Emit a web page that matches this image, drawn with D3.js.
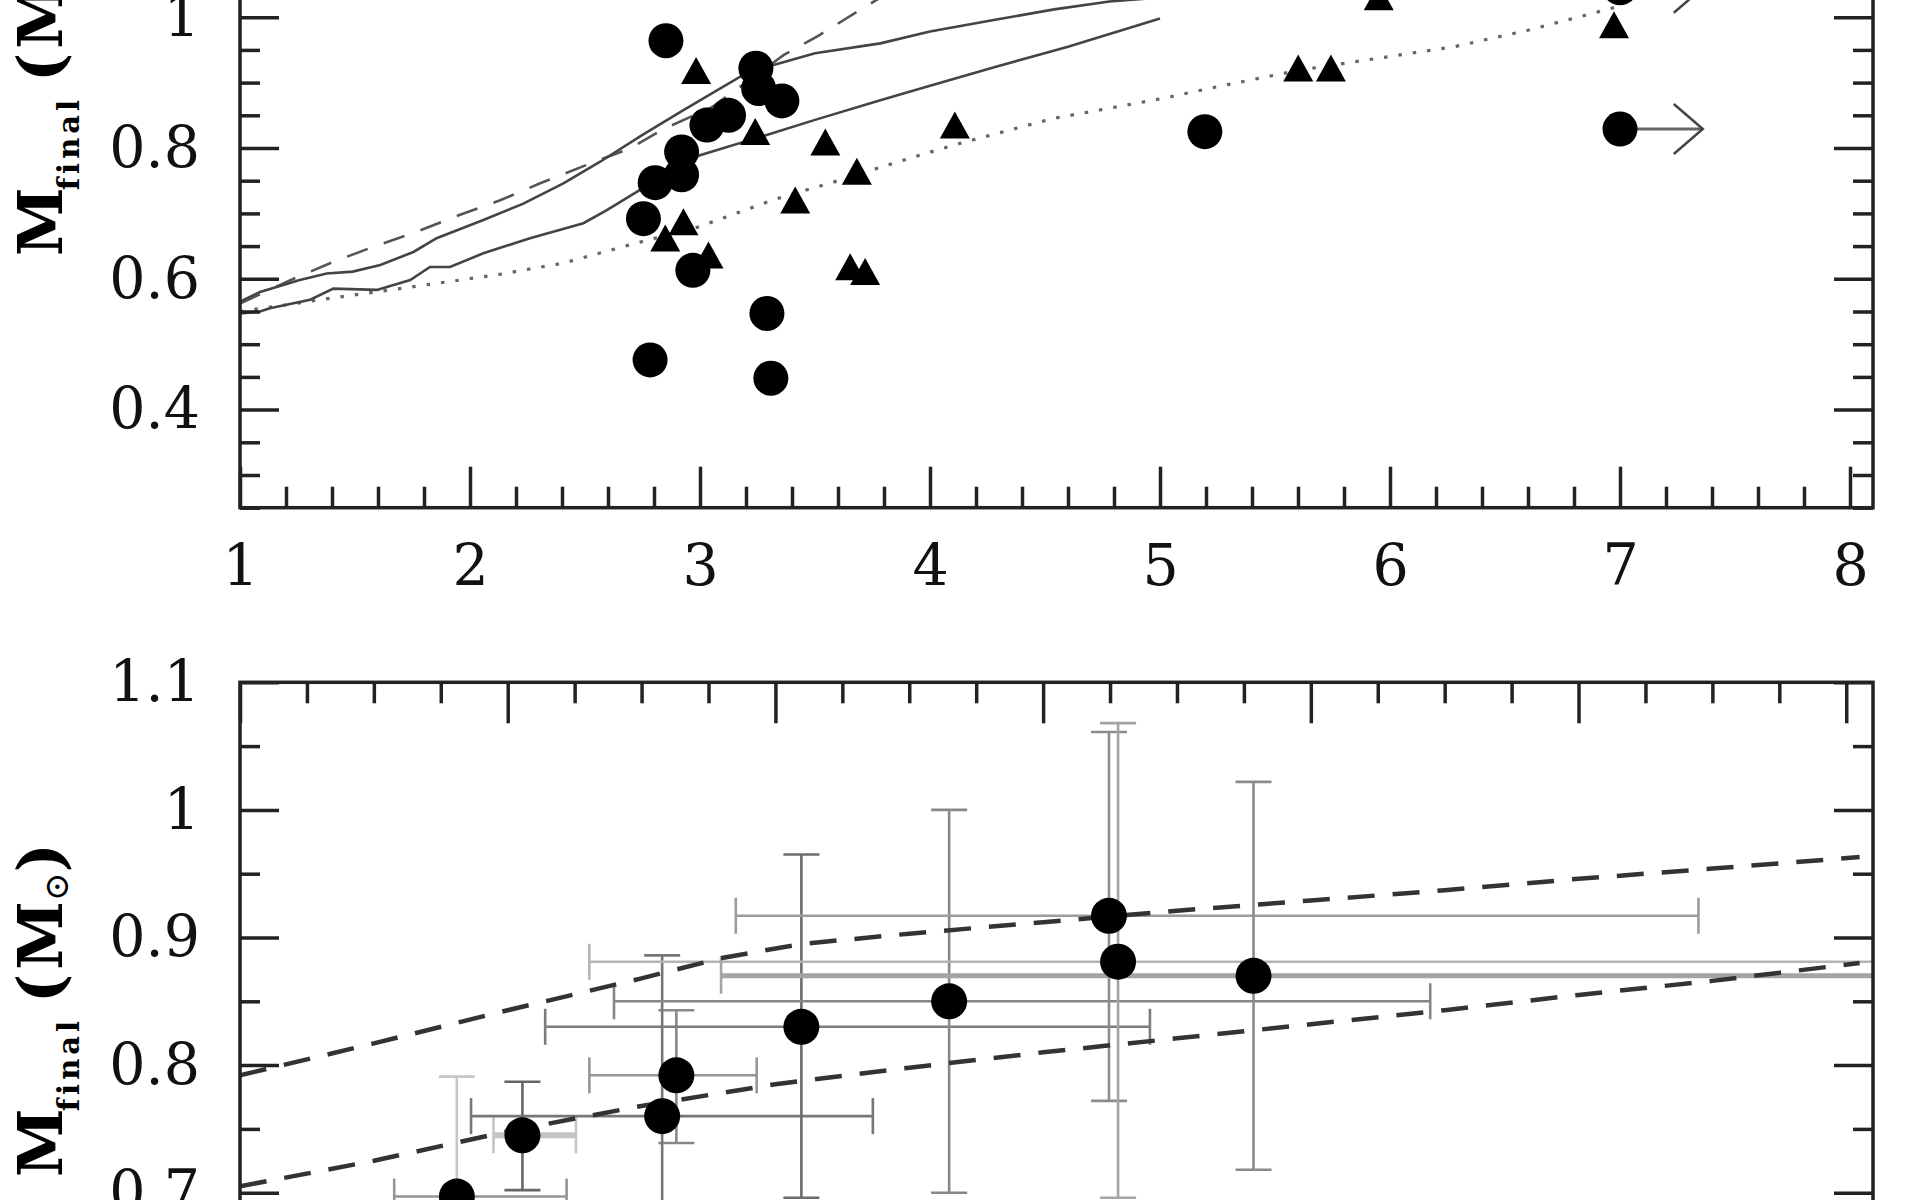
<!DOCTYPE html>
<html><head><meta charset="utf-8">
<script src="https://cdn.jsdelivr.net/npm/d3@7"></script>
<style>body{margin:0;background:#fff}svg{display:block}</style>
</head><body>
<svg id="c" width="1920" height="1200"></svg>
<script>
// ---------------- data ----------------
const topXTicks = [1,2,3,4,5,6,7,8];
const topYTicks = [0.4,0.6,0.8,1.0];
const botXTicks = [1,2,3,4,5,6,7];
const botYTicks = [0.7,0.8,0.9,1.0,1.1];

// top panel: filled circles
const circX = [2.852,3.243,3.255,3.356,3.124,3.03,2.92,2.92,2.805,2.754,2.969,3.291,2.783,3.308,5.195];
const circY = [0.964,0.922,0.891,0.872,0.850,0.835,0.794,0.759,0.747,0.692,0.613,0.547,0.476,0.448,0.825];
// lower limits (circle with arrow)
const limX = [7.0,7.0];
const limY = [0.829,1.045];
const limTo = [7.36,7.36];
// top panel: filled triangles
const triX = [2.983,3.240,3.545,3.682,3.414,2.928,2.849,3.037,3.653,3.718,4.108,5.601,5.743,5.951,6.974];
const triY = [0.913,0.820,0.804,0.759,0.715,0.682,0.657,0.631,0.613,0.606,0.830,0.917,0.917,1.026,0.983];

// top panel model curves
const upSolidX = [1,1.087,1.26,1.377,1.49,1.61,1.754,1.855,2.058,2.232,2.406,2.566,2.75,2.928,3.175,3.32,3.5,3.784,4.0,4.283,4.54,4.78,5.0];
const upSolidY = [0.565,0.580,0.598,0.608,0.611,0.621,0.641,0.662,0.690,0.715,0.746,0.779,0.82,0.858,0.909,0.927,0.945,0.960,0.978,0.996,1.012,1.024,1.03];
const loSolidX = [1,1.087,1.13,1.305,1.406,1.595,1.74,1.826,1.913,2.058,2.261,2.493,2.595,2.725,2.85,3.0,3.29,3.5,3.784,4.0,4.283,4.6,5.0];
const loSolidY = [0.547,0.550,0.555,0.568,0.585,0.583,0.598,0.618,0.618,0.639,0.662,0.685,0.705,0.733,0.76,0.789,0.82,0.843,0.873,0.895,0.924,0.955,0.998];
const dashX = [1,1.2,1.406,1.58,1.768,1.957,2.131,2.305,2.513,2.7,2.841,3.05,3.2,3.363,3.516,3.682,3.9];
const dashY = [0.562,0.595,0.626,0.649,0.672,0.698,0.72,0.746,0.775,0.80,0.829,0.862,0.90,0.942,0.972,1.008,1.055];
const dotX = [1,1.39,1.754,2.116,2.406,2.696,3.0,3.32,3.6,3.871,4.108,4.533,5.0,5.282,5.606,6.0,6.28,6.6,7.0];
const dotY = [0.550,0.570,0.588,0.606,0.624,0.652,0.680,0.721,0.75,0.780,0.805,0.845,0.875,0.896,0.919,0.94,0.955,0.98,1.017];

// bottom panel: points with error bars
const botX  = [1.81,2.055,2.63,2.577,3.097,3.649,4.246,4.28,4.786];
const botY  = [0.697,0.745,0.792,0.760,0.830,0.850,0.917,0.881,0.870];
const xLo   = [1.576,1.947,2.305,1.863,2.14,2.397,2.852,2.305,2.797];
const xHi   = [2.22,2.255,2.93,3.364,4.399,5.446,6.448,7.4,7.4];
const yLo   = [0.60,0.702,0.739,0.62,0.696,0.700,0.772,0.696,0.718];
const yHi   = [0.791,0.787,0.843,0.886,0.965,1.0,1.061,1.068,1.022];
// bottom panel: dashed envelope curves
const bUpX = [1,1.5,2,2.5,2.8,3.1,3.5,4,4.5,5,5.5,6,6.5,7.05];
const bUpY = [0.792,0.817,0.843,0.868,0.884,0.895,0.903,0.912,0.921,0.929,0.937,0.946,0.954,0.963];
const bLoX = [1,1.5,2,2.5,3,3.5,4,4.5,5,5.5,6,6.5,7.05];
const bLoY = [0.705,0.725,0.748,0.768,0.785,0.798,0.810,0.821,0.832,0.843,0.855,0.866,0.880];

// error-bar shading (style only)
const vShade = ["#c6c6c6","#666666","#888888","#777777","#6c6c6c","#888888","#8c8c8c","#a4a4a4","#8a8a8a"];
const hShade = ["#949494","#c4c4c4","#969696","#777777","#7c7c7c","#868686","#9c9c9c","#b4b4b4","#a4a4a4"];
const hWidth = [2.6,6,2.6,2.6,2.6,2.6,2.6,2.6,5];

// ---------------- layout ----------------
const svg = d3.select("#c");
const L = 240, R = 1873;
const xTop = d3.scaleLinear().domain([1, 8.1]).range([L, R]);
const yTop = d3.scaleLinear().domain([0.25, 1.5]).range([507.7, -309.8]);
const xBot = d3.scaleLinear().domain([1, 7.1]).range([L, R]);
const yBot = d3.scaleLinear().domain([0.55, 1.1]).range([1384.1, 682.3]);

const AX = "#222", FONT = "DejaVu Serif";
const fmt = d => String(+d.toFixed(2));

function styleAxis(g, labels){
  g.select(".domain").remove();
  g.selectAll(".tick line").attr("stroke", AX).attr("stroke-width", 3.5);
  g.selectAll(".tick text").attr("font-family", FONT).attr("font-size", 57).attr("fill", "#111");
  if(!labels) g.selectAll(".tick text").remove();
}
function axes(xs, ys, xMaj, xMin, yMaj, yMin, xLabels, top, bottom){
  const gB = svg.append("g").attr("transform", `translate(0,${bottom})`);
  gB.call(d3.axisBottom(xs).tickValues(xMaj).tickSizeInner(-41).tickSizeOuter(0).tickPadding(37).tickFormat(fmt));
  styleAxis(gB, xLabels);
  const gBm = svg.append("g").attr("transform", `translate(0,${bottom})`);
  gBm.call(d3.axisBottom(xs).tickValues(xMin).tickSizeInner(-21).tickSizeOuter(0));
  styleAxis(gBm, false);
  const gT = svg.append("g").attr("transform", `translate(0,${top})`);
  gT.call(d3.axisTop(xs).tickValues(xMaj).tickSizeInner(-41).tickSizeOuter(0));
  styleAxis(gT, false);
  const gTm = svg.append("g").attr("transform", `translate(0,${top})`);
  gTm.call(d3.axisTop(xs).tickValues(xMin).tickSizeInner(-21).tickSizeOuter(0));
  styleAxis(gTm, false);
  const gL = svg.append("g").attr("transform", `translate(${L},0)`);
  gL.call(d3.axisLeft(ys).tickValues(yMaj).tickSizeInner(-39).tickSizeOuter(0).tickPadding(40).tickFormat(fmt));
  styleAxis(gL, true);
  const gLm = svg.append("g").attr("transform", `translate(${L},0)`);
  gLm.call(d3.axisLeft(ys).tickValues(yMin).tickSizeInner(-20).tickSizeOuter(0));
  styleAxis(gLm, false);
  const gR = svg.append("g").attr("transform", `translate(${R},0)`);
  gR.call(d3.axisRight(ys).tickValues(yMaj).tickSizeInner(-39).tickSizeOuter(0));
  styleAxis(gR, false);
  const gRm = svg.append("g").attr("transform", `translate(${R},0)`);
  gRm.call(d3.axisRight(ys).tickValues(yMin).tickSizeInner(-20).tickSizeOuter(0));
  styleAxis(gRm, false);
  svg.append("rect").attr("x", L).attr("y", top).attr("width", R - L).attr("height", bottom - top)
    .attr("fill", "none").attr("stroke", AX).attr("stroke-width", 3.5);
}

const near = (a, b) => Math.abs(a - b) < 1e-6;
const minors = (lo, hi, step, majors) => d3.range(Math.round((hi - lo) / step) + 1)
  .map(i => +(lo + i * step).toFixed(3)).filter(v => !majors.some(m => near(m, v)));

const defs = svg.append("defs");
defs.append("clipPath").attr("id", "clipTop").append("rect")
  .attr("x", L).attr("y", yTop(1.5)).attr("width", R - L).attr("height", yTop(0.25) - yTop(1.5));
defs.append("clipPath").attr("id", "clipBot").append("rect")
  .attr("x", L).attr("y", yBot(1.1)).attr("width", R - L).attr("height", yBot(0.55) - yBot(1.1));

// ---------------- top panel ----------------
const gTop = svg.append("g").attr("clip-path", "url(#clipTop)");
const lineT = d3.line().x(d => xTop(d[0])).y(d => yTop(d[1]));
const zip = (a, b) => a.map((v, i) => [v, b[i]]);
gTop.append("path").attr("d", lineT(zip(dotX, dotY))).attr("fill", "none")
  .attr("stroke", "#666").attr("stroke-width", 3.2).attr("stroke-dasharray", "3.5,11");
gTop.append("path").attr("d", lineT(zip(dashX, dashY))).attr("fill", "none")
  .attr("stroke", "#555").attr("stroke-width", 2.6).attr("stroke-dasharray", "22,17");
gTop.append("path").attr("d", lineT(zip(upSolidX, upSolidY))).attr("fill", "none")
  .attr("stroke", "#444").attr("stroke-width", 2.6);
gTop.append("path").attr("d", lineT(zip(loSolidX, loSolidY))).attr("fill", "none")
  .attr("stroke", "#444").attr("stroke-width", 2.6);

limX.forEach((x0, i) => {
  const x1 = xTop(x0), x2 = xTop(limTo[i]), y = yTop(limY[i]);
  gTop.append("line").attr("x1", x1).attr("x2", x2).attr("y1", y).attr("y2", y)
    .attr("stroke", "#666").attr("stroke-width", 3);
  gTop.append("path").attr("d", `M${x2 - 29},${y - 25}L${x2},${y}L${x2 - 29},${y + 25}`)
    .attr("fill", "none").attr("stroke", "#444").attr("stroke-width", 2.5);
});
gTop.selectAll("circle.c").data(zip(circX.concat(limX), circY.concat(limY))).join("circle")
  .attr("cx", d => xTop(d[0])).attr("cy", d => yTop(d[1])).attr("r", 17.5).attr("fill", "#000");
const triPath = "M0,-17L15,10L-15,10Z";
gTop.selectAll("path.t").data(zip(triX, triY)).join("path")
  .attr("d", triPath).attr("transform", d => `translate(${xTop(d[0])},${yTop(d[1])})`).attr("fill", "#000");

axes(xTop, yTop, topXTicks, minors(1, 8.1, 0.2, topXTicks), [0.4,0.6,0.8,1.0,1.2,1.4],
     minors(0.25, 1.5, 0.05, [0.4,0.6,0.8,1.0,1.2,1.4]), true, yTop(1.5), yTop(0.25));
// left labels only for the visible tick labels
svg.selectAll("g .tick text").filter(function(d){ return false; });

// ---------------- bottom panel ----------------
const gBot = svg.append("g").attr("clip-path", "url(#clipBot)");
const lineB = d3.line().x(d => xBot(d[0])).y(d => yBot(d[1]));
botX.forEach((x0, i) => {
  const cx = xBot(x0), cy = yBot(botY[i]);
  const xl = xBot(xLo[i]), xh = xBot(xHi[i]), yl = yBot(yLo[i]), yh = yBot(yHi[i]);
  const gv = gBot.append("g").attr("stroke", vShade[i]).attr("stroke-width", 2.6);
  gv.append("line").attr("x1", cx).attr("x2", cx).attr("y1", yl).attr("y2", yh);
  gv.append("line").attr("x1", cx - 18).attr("x2", cx + 18).attr("y1", yl).attr("y2", yl);
  gv.append("line").attr("x1", cx - 18).attr("x2", cx + 18).attr("y1", yh).attr("y2", yh);
  const gh = gBot.append("g").attr("stroke", hShade[i]).attr("stroke-width", hWidth[i]);
  gh.append("line").attr("x1", xl).attr("x2", xh).attr("y1", cy).attr("y2", cy);
  gh.append("line").attr("x1", xl).attr("x2", xl).attr("y1", cy - 18).attr("y2", cy + 18).attr("stroke-width", 2.6);
  gh.append("line").attr("x1", xh).attr("x2", xh).attr("y1", cy - 18).attr("y2", cy + 18).attr("stroke-width", 2.6);
});
[[bUpX, bUpY], [bLoX, bLoY]].forEach(([xs, ys]) => {
  gBot.append("path").attr("d", lineB(zip(xs, ys))).attr("fill", "none")
    .attr("stroke", "#333").attr("stroke-width", 4.5).attr("stroke-dasharray", "27,18");
});
gBot.selectAll("circle").data(zip(botX, botY)).join("circle")
  .attr("cx", d => xBot(d[0])).attr("cy", d => yBot(d[1])).attr("r", 18).attr("fill", "#000");

axes(xBot, yBot, botXTicks, minors(1, 7.1, 0.25, botXTicks), [0.6].concat(botYTicks),
     minors(0.55, 1.1, 0.05, [0.6].concat(botYTicks)), false, yBot(1.1), yBot(0.55));

// keep only the tick labels listed in the label arrays
svg.selectAll(".tick text").filter(function(d){
  const p = this.parentNode.parentNode.getAttribute("transform") || "";
  const isLeft = p.indexOf(`translate(${L},0)`) === 0;
  if(!isLeft) return false;
  return !topYTicks.concat(botYTicks).some(v => near(v, d));
}).remove();

// ---------------- y-axis titles ----------------
function yTitle(y0){
  const t = svg.append("text").attr("transform", `translate(62,${y0}) rotate(-90)`)
    .attr("font-family", FONT).attr("font-weight", "bold").attr("fill", "#000");
  t.append("tspan").attr("font-size", 62).text("M");
  t.append("tspan").attr("font-size", 29).attr("dy", 17).attr("dx", -3).attr("letter-spacing", 4).text("final");
  t.append("tspan").attr("font-size", 62).attr("dy", -17).attr("dx", 14).text("(");
  t.append("tspan").attr("font-size", 62).attr("dx", 4).text("M");
  t.append("tspan").attr("font-size", 34).attr("dy", 6).attr("font-weight", "normal").text("⊙");
  t.append("tspan").attr("font-size", 62).attr("dy", -6).text(")");
}
yTitle(256);
yTitle(1177);
</script>
</body></html>
